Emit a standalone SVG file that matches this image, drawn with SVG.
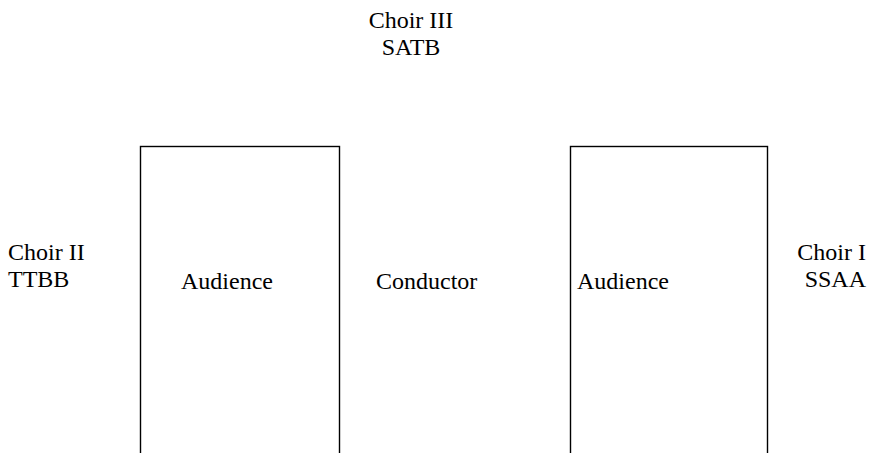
<svg xmlns="http://www.w3.org/2000/svg" width="869" height="453" viewBox="0 0 869 453">
<style>
text{font-family:"Liberation Serif","Times New Roman",serif;font-size:24px;fill:#000}
.blk{fill:none;stroke:#000;stroke-width:1.4}
</style>
<rect width="869" height="453" fill="#fff"/>
<g id="audience-left">
<rect class="blk" x="140.5" y="146.5" width="199" height="400"/>
<text x="181" y="289">Audience</text>
</g>
<g id="audience-right">
<rect class="blk" x="570.5" y="146.5" width="197" height="400"/>
<text x="577" y="289">Audience</text>
</g>
<g id="conductor">
<text x="376" y="289">Conductor</text>
</g>
<g id="choir3">
<text x="411" y="28" text-anchor="middle">Choir III</text>
<text x="411" y="55" text-anchor="middle">SATB</text>
</g>
<g id="choir2">
<text x="8" y="260">Choir II</text>
<text x="8" y="287">TTBB</text>
</g>
<g id="choir1">
<text x="866" y="260" text-anchor="end">Choir I</text>
<text x="866" y="287" text-anchor="end">SSAA</text>
</g>
<g id="connectors"></g>
</svg>
